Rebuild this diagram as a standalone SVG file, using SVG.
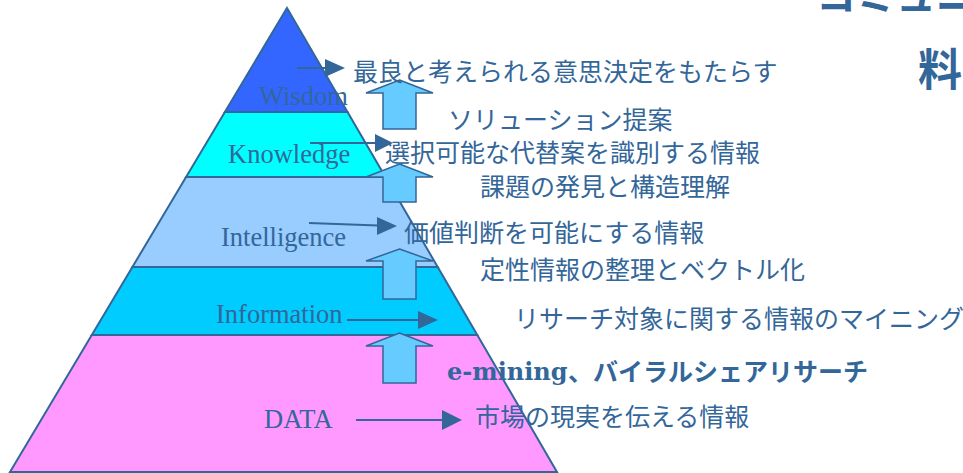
<svg xmlns="http://www.w3.org/2000/svg" width="963" height="473" viewBox="0 0 963 473">
<defs>
<style>
.band{stroke:#336699;stroke-width:2;stroke-linejoin:miter}
.lbl{font-family:"Liberation Serif","Times New Roman",serif;font-size:26.5px;fill:#336699}
.jp{font-family:"Noto Sans CJK JP","Noto Sans",sans-serif;font-size:25px;fill:#336699}
.jpb{font-family:"Noto Sans CJK JP","Noto Sans",sans-serif;font-weight:bold;fill:#336699}
.blk{fill:#66ccff;stroke:#336699;stroke-width:1.5;stroke-linejoin:miter}
.ln{stroke:#336699;stroke-width:2;fill:none}
</style>
</defs>
<rect width="963" height="473" fill="#ffffff"/>

<g id="data">
<polygon class="band" points="91.8,335 477.3,335 557,472 10,472" fill="#ff99ff"/>
</g>
<g id="information">
<polygon class="band" points="132.4,267 437.7,267 477.3,335 91.8,335" fill="#00ccff"/>
</g>
<g id="intelligence">
<polygon class="band" points="186.1,177 385.4,177 437.7,267 132.4,267" fill="#99ccff"/>
</g>
<g id="knowledge">
<polygon class="band" points="224.9,112 347.5,112 385.4,177 186.1,177" fill="#00ffff"/>
</g>
<g id="wisdom">
<polygon class="band" points="287,8 347.5,112 224.9,112" fill="#3366ff"/>
</g>

<g id="labels">
<text class="lbl" x="259" y="105">Wisdom</text>
<text class="lbl" x="228" y="163">Knowledge</text>
<text class="lbl" x="221" y="246">Intelligence</text>
<text class="lbl" x="216" y="323">Information</text>
<text class="lbl" x="264" y="428">DATA</text>
</g>

<g id="connectors">
<polygon class="blk" points="399.5,80 433,93 416,93 416,129 383,129 383,93 366,93"/>
<polygon class="blk" points="399.5,164 433,177 416,177 416,202 383,202 383,177 366,177"/>
<polygon class="blk" points="399.5,249 433,261 416,261 416,299 383,299 383,261 366,261"/>
<polygon class="blk" points="399.5,333 433,346 416,346 416,383 383,383 383,346 366,346"/>
<g>
<line x1="297" y1="68" x2="326" y2="68" class="ln"/>
<polygon points="325,59 345,68 325,77" fill="#336699"/>
<line x1="310" y1="143" x2="376" y2="143" class="ln"/>
<polygon points="375,134 393,143 375,152" fill="#336699"/>
<line x1="309" y1="223" x2="378" y2="225.5" class="ln"/>
<polygon points="377,217 397,226 377,235" fill="#336699"/>
<line x1="347" y1="320" x2="419" y2="320" class="ln"/>
<polygon points="418,311 438,320 418,329" fill="#336699"/>
<line x1="356" y1="420" x2="443" y2="420" class="ln"/>
<polygon points="442,410 462,420 442,430" fill="#336699"/>
</g>
</g>

<g id="descriptions">
<text class="jp" x="353" y="81">最良と考えられる意思決定をもたらす</text>
<text class="jp" x="448" y="129">ソリューション提案</text>
<text class="jp" x="385" y="162">選択可能な代替案を識別する情報</text>
<text class="jp" x="480" y="196">課題の発見と構造理解</text>
<text class="jp" x="404" y="242">価値判断を可能にする情報</text>
<text class="jp" x="480" y="279">定性情報の整理とベクトル化</text>
<text class="jp" x="514" y="328">リサーチ対象に関する情報のマイニング</text>
<text x="447" y="380" font-family="DejaVu Serif, Liberation Serif, serif" font-weight="bold" font-size="24" fill="#336699">e-mining</text>
<text class="jpb" x="568" y="381" font-size="25">、バイラルシェアリサーチ</text>
<text class="jp" x="475" y="426">市場の現実を伝える情報</text>
</g>

<g id="title">
<text class="jpb" x="816" y="10" font-size="40">コミュニ</text>
<text class="jpb" x="918" y="86" font-size="44">料</text>
</g>
</svg>
